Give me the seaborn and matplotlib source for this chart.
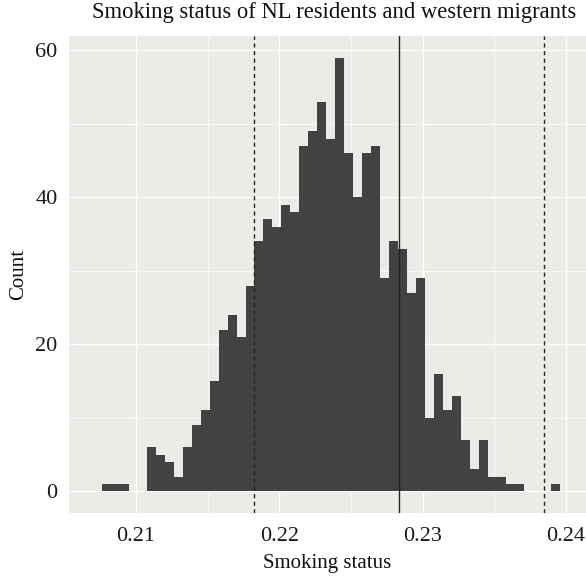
import numpy as np
import pandas as pd
import matplotlib
matplotlib.use("Agg")
import matplotlib.pyplot as plt
import seaborn as sns
from matplotlib.ticker import MultipleLocator

# histogram: 51 equal bins starting at bin_start
bin_start = 0.20763
bin_width = 0.000626
counts = [1, 1, 1, 0, 0, 6, 5, 4, 2, 6,
          9, 11, 15, 22, 24, 21, 28, 34, 37, 36,
          39, 38, 47, 49, 53, 48, 59, 46, 40, 46,
          47, 29, 34, 33, 27, 29, 10, 16, 11, 13,
          7, 3, 7, 2, 2, 1, 1, 0, 0, 0,
          1]

# reference lines: lower bound, estimate, upper bound
lower_ci = 0.21826
estimate = 0.22837
upper_ci = 0.23844

x_ticks = [0.21, 0.22, 0.23, 0.24]
y_ticks = [0, 20, 40, 60]

n_bins = len(counts)
bin_end = bin_start + bin_width * n_bins
centers = bin_start + bin_width * (np.arange(n_bins) + 0.5)
df = pd.DataFrame({"smoking": centers, "n": counts})

sns.set_theme(style="darkgrid", rc={
    "axes.facecolor": "#EBEBE8",
    "grid.color": "white",
    "axes.edgecolor": "none",
})
plt.rcParams["font.family"] = ["Liberation Serif", "DejaVu Serif"]

fig = plt.figure(figsize=(5.86, 5.77), dpi=100)
ax = fig.add_axes([0.117, 0.111, 0.883, 0.8265])

sns.histplot(data=df, x="smoking", weights="n", bins=n_bins,
             binrange=(bin_start, bin_end), ax=ax,
             color="#424242", alpha=1, linewidth=0, edgecolor="none")

ax.axvline(lower_ci, color="#222222", linestyle=(0, (3, 2.5)), linewidth=1)
ax.axvline(estimate, color="#222222", linestyle="-", linewidth=1)
ax.axvline(upper_ci, color="#222222", linestyle=(0, (3, 2.5)), linewidth=1)

ax.set_xlim(0.2053, 0.2414)
ax.set_ylim(-2.95, 61.95)
ax.set_xticks(x_ticks)
ax.set_xticklabels([f"{t:.2f}" for t in x_ticks])
ax.set_yticks(y_ticks)
ax.xaxis.set_minor_locator(MultipleLocator(0.005))
ax.yaxis.set_minor_locator(MultipleLocator(10))

ax.grid(which="major", color="white", linewidth=1.0)
ax.grid(which="minor", color="white", linewidth=0.5)
ax.set_axisbelow(True)

ax.tick_params(axis="both", which="major", length=3, width=0.8, color="#555555",
               labelsize=16, labelcolor="#1a1a1a", pad=5)
ax.tick_params(axis="x", which="major", pad=7)
ax.tick_params(which="minor", length=0)

ax.set_title("Smoking status of NL residents and western migrants",
             fontsize=16.3, color="#111111", pad=13, x=0.514)
ax.set_xlabel("Smoking status", fontsize=15, color="#111111", labelpad=6)
ax.set_ylabel("Count", fontsize=15, color="#111111", labelpad=5)

for s in ax.spines.values():
    s.set_visible(False)

fig.savefig("out.png", dpi=100)
